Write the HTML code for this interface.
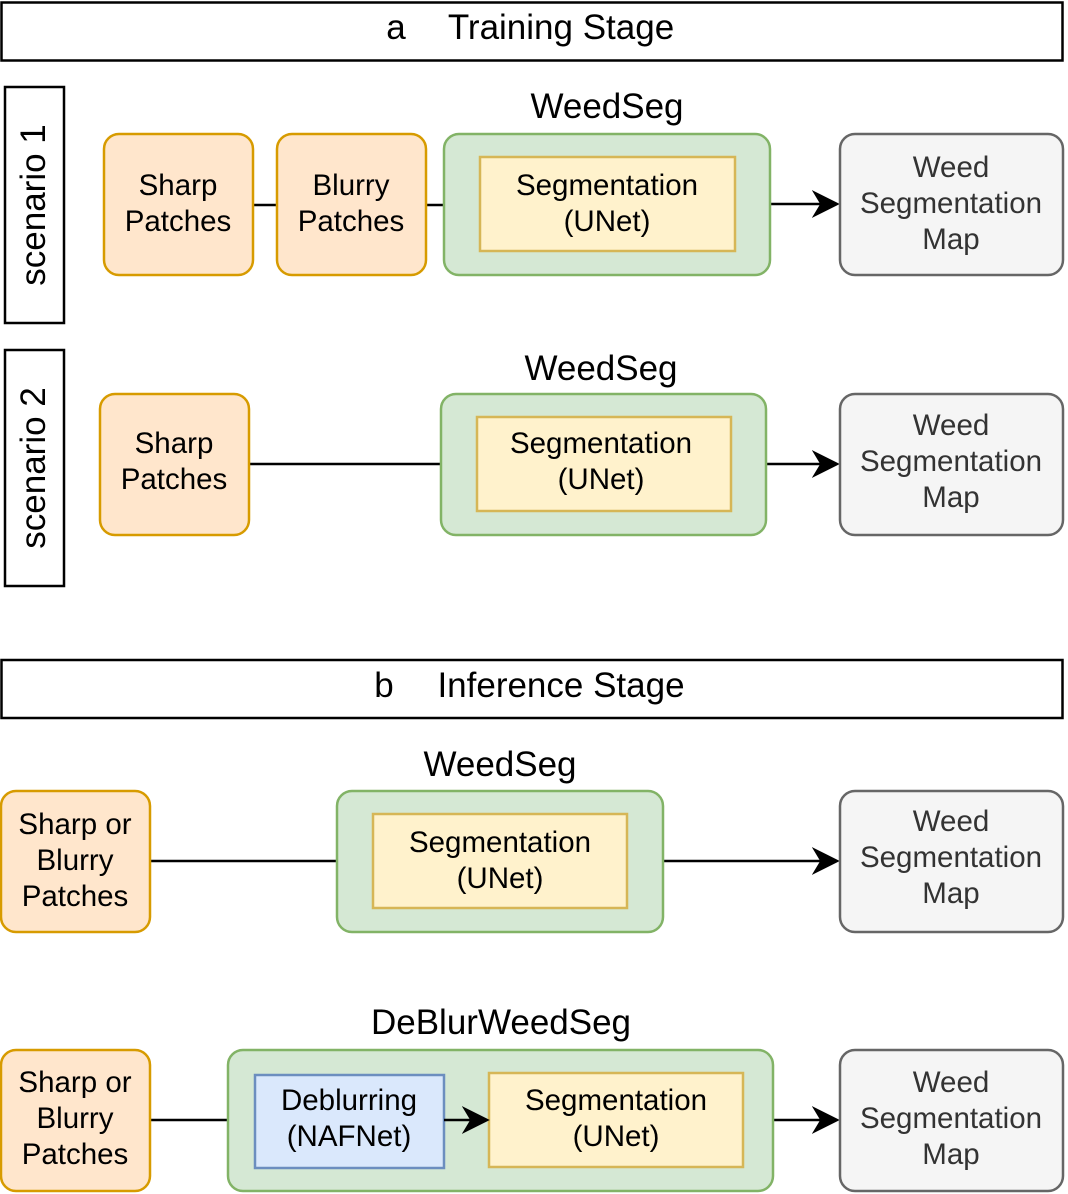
<!DOCTYPE html>
<html><head><meta charset="utf-8"><style>html,body{margin:0;padding:0;background:#fff}svg{display:block}text{font-family:"Liberation Sans",Arial,sans-serif}</style></head>
<body>
<svg width="1068" height="1194" viewBox="0 0 1068 1194" xmlns="http://www.w3.org/2000/svg">
<defs>
<marker id="ar2" viewBox="0 0 10 10" refX="9" refY="5" markerWidth="28" markerHeight="28" markerUnits="userSpaceOnUse" orient="auto"><path d="M0,0 L10,5 L0,10 L3,5 z" fill="#000"/></marker></defs>
<g stroke-width="2.5">
<!-- headers -->
<rect x="1.5" y="2.5" width="1061" height="58" fill="#fff" stroke="#000"/>
<text x="396" y="39" font-size="35" text-anchor="middle" stroke="none">a</text>
<text x="561" y="39" font-size="35" text-anchor="middle" stroke="none">Training Stage</text>
<rect x="1.5" y="660" width="1061" height="58" fill="#fff" stroke="#000"/>
<text x="384" y="697" font-size="35" text-anchor="middle" stroke="none">b</text>
<text x="561" y="697" font-size="35" text-anchor="middle" stroke="none">Inference Stage</text>
<rect x="5" y="87" width="59" height="236" fill="#fff" stroke="#000"/>
<text transform="translate(45,205) rotate(-90)" font-size="35" text-anchor="middle" stroke="none">scenario 1</text>
<rect x="5" y="350" width="59" height="236" fill="#fff" stroke="#000"/>
<text transform="translate(45,468) rotate(-90)" font-size="35" text-anchor="middle" stroke="none">scenario 2</text>

<!-- lines -->
<g stroke="#000" fill="none">
<line x1="253" y1="205" x2="277" y2="205"/><line x1="426" y1="205" x2="444" y2="205"/>
<line x1="770" y1="204" x2="837" y2="204" marker-end="url(#ar2)"/>
<line x1="249" y1="464" x2="441" y2="464"/>
<line x1="766" y1="464" x2="837" y2="464" marker-end="url(#ar2)"/>
<line x1="150" y1="861" x2="337" y2="861"/>
<line x1="663" y1="861" x2="837" y2="861" marker-end="url(#ar2)"/>
<line x1="150" y1="1120" x2="228" y2="1120"/>
<line x1="773" y1="1120" x2="837" y2="1120" marker-end="url(#ar2)"/>
</g>

<rect x="104" y="134" width="149" height="141" rx="15" fill="#ffe6cc" stroke="#d79b00"/>
<rect x="277" y="134" width="149" height="141" rx="15" fill="#ffe6cc" stroke="#d79b00"/>
<rect x="444" y="134" width="326" height="141" rx="15" fill="#d5e8d4" stroke="#82b366"/>
<rect x="480" y="157" width="255" height="94" fill="#fff2cc" stroke="#d6b656"/>
<rect x="840" y="134" width="223" height="141" rx="15" fill="#f5f5f5" stroke="#666"/>
<rect x="100" y="394" width="149" height="141" rx="15" fill="#ffe6cc" stroke="#d79b00"/>
<rect x="441" y="394" width="325" height="141" rx="15" fill="#d5e8d4" stroke="#82b366"/>
<rect x="477" y="417" width="254" height="94" fill="#fff2cc" stroke="#d6b656"/>
<rect x="840" y="394" width="223" height="141" rx="15" fill="#f5f5f5" stroke="#666"/>
<rect x="1" y="791" width="149" height="141" rx="15" fill="#ffe6cc" stroke="#d79b00"/>
<rect x="337" y="791" width="326" height="141" rx="15" fill="#d5e8d4" stroke="#82b366"/>
<rect x="373" y="814" width="254" height="94" fill="#fff2cc" stroke="#d6b656"/>
<rect x="840" y="791" width="223" height="141" rx="15" fill="#f5f5f5" stroke="#666"/>
<rect x="1" y="1050" width="149" height="141" rx="15" fill="#ffe6cc" stroke="#d79b00"/>
<rect x="228" y="1050" width="545" height="141" rx="15" fill="#d5e8d4" stroke="#82b366"/>
<rect x="255" y="1075" width="189" height="93" fill="#dae8fc" stroke="#6c8ebf"/>
<rect x="489" y="1073" width="254" height="94" fill="#fff2cc" stroke="#d6b656"/>
<rect x="840" y="1050" width="223" height="141" rx="15" fill="#f5f5f5" stroke="#666"/>
<line x1="444" y1="1120" x2="487" y2="1120" stroke="#000" marker-end="url(#ar2)"/>
</g>

<g font-size="29.5" text-anchor="middle" fill="#000">
<text x="178" y="195">Sharp</text><text x="178" y="231">Patches</text>
<text x="351" y="195">Blurry</text><text x="351" y="231">Patches</text>
<text x="607" y="195">Segmentation</text><text x="607" y="231">(UNet)</text>
<text x="174" y="453">Sharp</text><text x="174" y="489">Patches</text>
<text x="601" y="453">Segmentation</text><text x="601" y="489">(UNet)</text>
<text x="75" y="834">Sharp or</text><text x="75" y="870">Blurry</text><text x="75" y="906">Patches</text>
<text x="500" y="852">Segmentation</text><text x="500" y="888">(UNet)</text>
<text x="75" y="1092">Sharp or</text><text x="75" y="1128">Blurry</text><text x="75" y="1164">Patches</text>
<text x="349" y="1110">Deblurring</text><text x="349" y="1146">(NAFNet)</text>
<text x="616" y="1110">Segmentation</text><text x="616" y="1146">(UNet)</text>
<g fill="#333">
<text x="951" y="177">Weed</text><text x="951" y="213">Segmentation</text><text x="951" y="249">Map</text>
<text x="951" y="435">Weed</text><text x="951" y="471">Segmentation</text><text x="951" y="507">Map</text>
<text x="951" y="831">Weed</text><text x="951" y="867">Segmentation</text><text x="951" y="903">Map</text>
<text x="951" y="1092">Weed</text><text x="951" y="1128">Segmentation</text><text x="951" y="1164">Map</text>
</g>
</g>
<g font-size="35" text-anchor="middle">
<text x="607" y="118">WeedSeg</text>
<text x="601" y="380">WeedSeg</text>
<text x="500" y="776">WeedSeg</text>
<text x="501" y="1034">DeBlurWeedSeg</text>
</g>
</svg>
</body></html>
